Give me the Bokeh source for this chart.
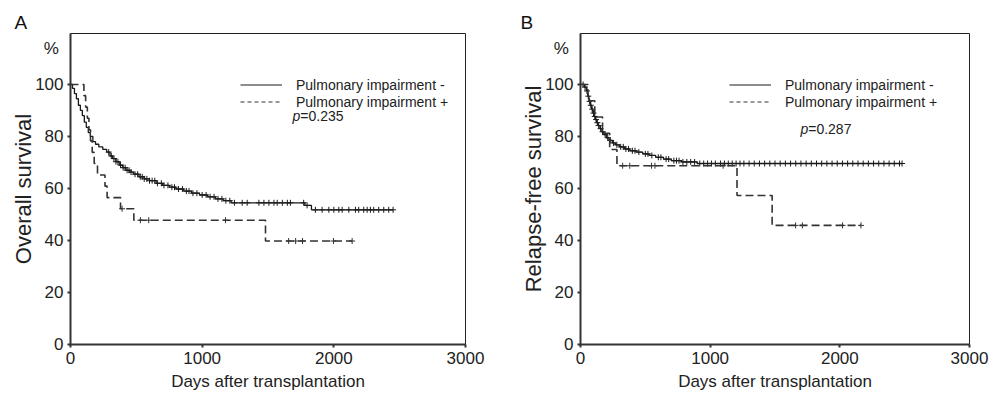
import numpy as np
from bokeh.plotting import figure
from bokeh.layouts import row
from bokeh.models import Range1d, FixedTicker, Label, Legend, LegendItem, Title
from bokeh.embed import file_html
from bokeh.resources import INLINE

FONT = "Liberation Sans"

# ---------------- Panel A : Overall survival ----------------
a_neg_t = [0, 15, 30, 45, 60, 75, 90, 105, 120, 135, 150, 170, 190, 215, 245, 275, 300, 320, 345, 370,
           395, 420, 450, 480, 520, 560, 600, 650, 700, 750, 800, 860, 920, 980, 1040, 1100, 1160, 1220, 1780, 1830]
a_neg_s = [100, 98.5, 96.5, 94.5, 92, 90, 88, 85.5, 83.5, 81.5, 80, 78, 77, 76, 75, 74, 72.5, 71.5, 70.3, 69,
           68, 67, 66.3, 65.5, 64.5, 63.7, 63, 62, 61.2, 60.5, 59.8, 59, 58.2, 57.5, 56.8, 56, 55.3, 54.5, 53.5, 51.8]
a_neg_end = 2450
a_neg_cens = [290, 310, 330, 345, 360, 380, 400, 415, 430, 445, 460, 490, 510, 530, 545, 560, 580, 600, 620, 640,
              660, 690, 710, 740, 770, 790, 820, 850, 880, 900, 930, 960, 1000, 1030, 1060, 1090, 1120, 1150, 1180,
              1210, 1245, 1304, 1342, 1431, 1469, 1507, 1545, 1570, 1609, 1647, 1670, 1771, 1797, 1860, 1911, 1962,
              2000, 2038, 2063, 2114, 2164, 2189, 2227, 2253, 2278, 2303, 2341, 2379, 2417, 2450]

a_pos_t = [0, 102, 115, 128, 140, 152, 165, 180, 205, 262, 278, 380, 481, 1481]
a_pos_s = [100, 95.7, 91.3, 87.0, 82.6, 78.3, 73.9, 69.6, 65.2, 60.9, 56.5, 52.2, 47.8, 39.8]
a_pos_end = 2139
a_pos_cens = [392, 531, 594, 1177, 1657, 1710, 1762, 1997, 2139]

# ---------------- Panel B : Relapse-free survival ----------------
b_neg_t = [0, 30, 45, 55, 65, 75, 85, 95, 105, 115, 125, 135, 150, 165, 180, 200, 220, 245, 270, 300,
           340, 380, 430, 480, 530, 580, 640, 700, 780, 900]
b_neg_s = [100, 99, 97.5, 95.5, 93.5, 92, 90.5, 89, 87.7, 86.5, 85.3, 84.2, 83, 81.8, 80.7, 79.5, 78.5, 77.5, 76.8, 76,
           75.2, 74.5, 74, 73.3, 72.7, 72, 71.3, 70.7, 70.2, 69.6]
b_neg_end = 2480
b_neg_cens = [20, 35, 50, 60, 70, 80, 90, 100, 110, 120, 130, 140, 155, 170, 190, 210, 230, 255, 280, 310, 330,
              350, 370, 400, 420, 450, 500, 520, 550, 600, 620, 660, 680, 720, 740, 760, 790, 820, 850, 880, 920,
              950, 980, 1010, 1040, 1080, 1110, 1140, 1170, 1200, 1230, 1260, 1300, 1340, 1380, 1420, 1460, 1500,
              1540, 1580, 1620, 1660, 1700, 1740, 1780, 1820, 1860, 1900, 1940, 1980, 2020, 2060, 2100, 2140,
              2180, 2220, 2260, 2300, 2340, 2380, 2420, 2460, 2480]

b_pos_t = [0, 57, 110, 170, 225, 281, 1207, 1478]
b_pos_s = [100, 93.75, 87.5, 81.25, 75.0, 68.75, 57.3, 45.8]
b_pos_end = 2163
b_pos_cens = [325, 380, 548, 574, 1100, 1659, 1711, 2021, 2163]

x_ticks = [0, 1000, 2000, 3000]
y_ticks = [0, 20, 40, 60, 80, 100]
pct_tick = 114          # position of the "%" unit label on the y axis
legend_labels = ["Pulmonary impairment -", "Pulmonary impairment +"]

SOLID_C = "#1a1a1a"
DASH_C = "#333333"
TXT_C = "#222222"


def step_xy(t, s, end):
    x = np.append(np.asarray(t, float), end)
    y = np.append(np.asarray(s, float), s[-1])
    return x, y


def cens_y(t, s, c):
    idx = np.searchsorted(np.asarray(t, float), np.asarray(c, float), side="right") - 1
    return np.asarray(s, float)[idx]


def make_panel(width, left, right, ylabel, curves, letter, letter_off, leg_x, p_text, p_x, p_y):
    p = figure(width=width, height=393, x_range=Range1d(0, 3000), y_range=Range1d(0, 119.6),
               output_backend="svg", toolbar_location=None,
               min_border_left=left, min_border_right=right, min_border_top=33, min_border_bottom=49)
    p.xgrid.visible = False
    p.ygrid.visible = False
    p.outline_line_color = "#222222"
    p.outline_line_width = 1
    p.background_fill_color = "white"
    p.border_fill_color = "white"

    for ax in (p.xaxis[0], p.yaxis[0]):
        ax.axis_line_width = 2
        ax.axis_line_color = "#333333"
        ax.major_tick_line_color = "#333333"
        ax.major_tick_line_width = 2
        ax.major_tick_out = 3
        ax.major_tick_in = 0
        ax.minor_tick_out = 0
        ax.minor_tick_in = 0
        ax.major_label_text_font = FONT
        ax.major_label_text_font_size = "17px"
        ax.major_label_text_color = TXT_C
        ax.axis_label_text_font = FONT
        ax.axis_label_text_font_style = "normal"
        ax.axis_label_text_color = TXT_C
    p.xaxis.ticker = FixedTicker(ticks=x_ticks)
    p.xaxis.axis_label = "Days after transplantation"
    p.xaxis.axis_label_text_font_size = "17px"
    p.xaxis.axis_label_standoff = 5
    p.xaxis.major_label_standoff = 4

    # y axis: tick marks drawn as "minor" ticks so that the "%" label gets no mark
    p.yaxis.ticker = FixedTicker(ticks=y_ticks + [pct_tick], minor_ticks=y_ticks)
    p.yaxis.major_label_overrides = {pct_tick: "%\u00a0"}
    p.yaxis.major_tick_out = 0
    p.yaxis.minor_tick_out = 3
    p.yaxis.minor_tick_line_width = 2
    p.yaxis.minor_tick_line_color = "#333333"
    p.yaxis.axis_label = ylabel
    p.yaxis.axis_label_text_font_size = "22px"
    p.yaxis.axis_label_standoff = -4
    p.yaxis.major_label_standoff = 4

    (nt, ns, nend, nc), (pt, ps, pend, pc) = curves
    x, y = step_xy(nt, ns, nend)
    p.step(x, y, mode="after", line_color=SOLID_C, line_width=1.3)
    p.scatter(nc, cens_y(nt, ns, nc), marker="cross", size=6, line_color=SOLID_C, line_width=1)
    x, y = step_xy(pt, ps, pend)
    p.step(x, y, mode="after", line_color=DASH_C, line_width=1.6, line_dash="8 4")
    p.scatter(pc, cens_y(pt, ps, pc), marker="cross", size=6, line_color=DASH_C, line_width=1)

    # legend
    r1 = p.line(x=[np.nan], y=[np.nan], line_color=SOLID_C, line_width=1.1)
    r2 = p.line(x=[np.nan], y=[np.nan], line_color=DASH_C, line_width=1.1, line_dash="4 3")
    leg = Legend(items=[LegendItem(label=legend_labels[0], renderers=[r1]),
                        LegendItem(label=legend_labels[1], renderers=[r2])],
                 location=(leg_x, 234), border_line_alpha=0, background_fill_alpha=0,
                 padding=0, margin=0, spacing=0, glyph_width=42, glyph_height=17, label_height=17,
                 label_standoff=14, label_text_font=FONT, label_text_font_size="14px",
                 label_text_color=TXT_C)
    p.add_layout(leg)

    p.add_layout(Label(x=p_x, y=p_y, text="p", text_font=FONT, text_font_size="14px",
                       text_font_style="italic", text_baseline="middle", text_color=TXT_C))
    p.add_layout(Label(x=p_x, y=p_y, x_offset=7.8, text=p_text, text_font=FONT, text_font_size="14px",
                       text_baseline="middle", text_color=TXT_C))

    p.title = Title(text=letter, align="left", offset=letter_off, standoff=2, text_font=FONT,
                    text_font_size="19px", text_font_style="normal", text_color="#111111")
    return p


pA = make_panel(514, 70, 49, "Overall survival",
                ((a_neg_t, a_neg_s, a_neg_end, a_neg_cens), (a_pos_t, a_pos_s, a_pos_end, a_pos_cens)),
                "A", -56, 170, "=0.235", 1686, 87.7)
pB = make_panel(480, 66, 25, "Relapse-free survival",
                ((b_neg_t, b_neg_s, b_neg_end, b_neg_cens), (b_pos_t, b_pos_s, b_pos_end, b_pos_cens)),
                "B", -60, 149, "=0.287", 1696, 82.7)

layout = row(pA, pB)
open("out.html", "w").write(file_html(layout, INLINE))
